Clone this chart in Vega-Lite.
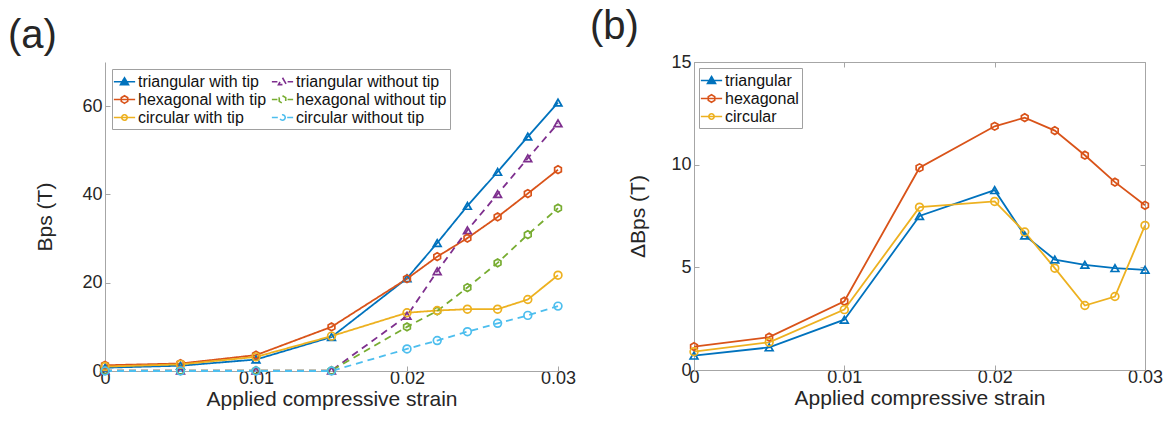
{
  "$schema": "https://vega.github.io/schema/vega-lite/v6.json",
  "background": "white",
  "padding": {"left": 8, "top": 6, "right": 5, "bottom": 5},
  "config": {
    "font": "Liberation Sans",
    "view": {"stroke": null},
    "axis": {
      "labelFont": "Liberation Sans", "titleFont": "Liberation Sans",
      "labelFontSize": 18, "titleFontSize": 21, "titleFontWeight": "normal",
      "labelColor": "#262626", "titleColor": "#262626",
      "domainColor": "#a6a6a6", "tickColor": "#a6a6a6", "domainWidth": 1, "tickWidth": 1,
      "tickSize": -5, "grid": false, "labelPadding": 8, "labelFlush": false, "labelOverlap": false
    },
    "point": {"filled": false, "strokeWidth": 1.7, "size": 60, "opacity": 1},
    "title": {"font": "Liberation Sans", "fontSize": 40, "fontWeight": "normal", "color": "#262626", "anchor": "start", "frame": "group", "baseline": "bottom"},
    "legend": {"labelFont": "Liberation Sans", "labelFontSize": 16, "labelColor": "#111", "title": null}
  },
  "resolve": {"scale": {"color": "independent", "strokeDash": "independent"}, "legend": {"color": "independent"}},
  "datasets": {
    "a": [
      {"s": "triangular with tip", "x": 0, "y": 0.75}, {"s": "triangular with tip", "x": 0.005, "y": 1.2}, {"s": "triangular with tip", "x": 0.01, "y": 2.6}, {"s": "triangular with tip", "x": 0.015, "y": 7.7}, {"s": "triangular with tip", "x": 0.02, "y": 21.0}, {"s": "triangular with tip", "x": 0.022, "y": 29.0}, {"s": "triangular with tip", "x": 0.024, "y": 37.4}, {"s": "triangular with tip", "x": 0.026, "y": 45.1}, {"s": "triangular with tip", "x": 0.028, "y": 53.1}, {"s": "triangular with tip", "x": 0.03, "y": 60.8},
      {"s": "hexagonal with tip", "x": 0, "y": 1.3}, {"s": "hexagonal with tip", "x": 0.005, "y": 1.7}, {"s": "hexagonal with tip", "x": 0.01, "y": 3.6}, {"s": "hexagonal with tip", "x": 0.015, "y": 10.0}, {"s": "hexagonal with tip", "x": 0.02, "y": 20.9}, {"s": "hexagonal with tip", "x": 0.022, "y": 25.9}, {"s": "hexagonal with tip", "x": 0.024, "y": 30.1}, {"s": "hexagonal with tip", "x": 0.026, "y": 34.9}, {"s": "hexagonal with tip", "x": 0.028, "y": 40.2}, {"s": "hexagonal with tip", "x": 0.03, "y": 45.6},
      {"s": "circular with tip", "x": 0, "y": 1.0}, {"s": "circular with tip", "x": 0.005, "y": 1.5}, {"s": "circular with tip", "x": 0.01, "y": 3.2}, {"s": "circular with tip", "x": 0.015, "y": 7.9}, {"s": "circular with tip", "x": 0.02, "y": 13.2}, {"s": "circular with tip", "x": 0.022, "y": 13.7}, {"s": "circular with tip", "x": 0.024, "y": 14.0}, {"s": "circular with tip", "x": 0.026, "y": 14.0}, {"s": "circular with tip", "x": 0.028, "y": 16.2}, {"s": "circular with tip", "x": 0.03, "y": 21.7},
      {"s": "triangular without tip", "x": 0, "y": 0.1}, {"s": "triangular without tip", "x": 0.005, "y": 0.1}, {"s": "triangular without tip", "x": 0.01, "y": 0.1}, {"s": "triangular without tip", "x": 0.015, "y": 0.1}, {"s": "triangular without tip", "x": 0.02, "y": 12.5}, {"s": "triangular without tip", "x": 0.022, "y": 22.6}, {"s": "triangular without tip", "x": 0.024, "y": 31.9}, {"s": "triangular without tip", "x": 0.026, "y": 40.1}, {"s": "triangular without tip", "x": 0.028, "y": 48.2}, {"s": "triangular without tip", "x": 0.03, "y": 56.1},
      {"s": "hexagonal without tip", "x": 0, "y": 0.1}, {"s": "hexagonal without tip", "x": 0.005, "y": 0.1}, {"s": "hexagonal without tip", "x": 0.01, "y": 0.1}, {"s": "hexagonal without tip", "x": 0.015, "y": 0.1}, {"s": "hexagonal without tip", "x": 0.02, "y": 10.0}, {"s": "hexagonal without tip", "x": 0.022, "y": 13.6}, {"s": "hexagonal without tip", "x": 0.024, "y": 18.9}, {"s": "hexagonal without tip", "x": 0.026, "y": 24.5}, {"s": "hexagonal without tip", "x": 0.028, "y": 30.9}, {"s": "hexagonal without tip", "x": 0.03, "y": 36.9},
      {"s": "circular without tip", "x": 0, "y": 0}, {"s": "circular without tip", "x": 0.005, "y": 0}, {"s": "circular without tip", "x": 0.01, "y": 0}, {"s": "circular without tip", "x": 0.015, "y": 0}, {"s": "circular without tip", "x": 0.02, "y": 5.0}, {"s": "circular without tip", "x": 0.022, "y": 6.9}, {"s": "circular without tip", "x": 0.024, "y": 8.9}, {"s": "circular without tip", "x": 0.026, "y": 10.8}, {"s": "circular without tip", "x": 0.028, "y": 12.6}, {"s": "circular without tip", "x": 0.03, "y": 14.7}
    ],
    "b": [
      {"s": "triangular", "x": 0, "y": 0.7}, {"s": "triangular", "x": 0.005, "y": 1.1}, {"s": "triangular", "x": 0.01, "y": 2.45}, {"s": "triangular", "x": 0.015, "y": 7.5}, {"s": "triangular", "x": 0.02, "y": 8.76}, {"s": "triangular", "x": 0.022, "y": 6.55}, {"s": "triangular", "x": 0.024, "y": 5.38}, {"s": "triangular", "x": 0.026, "y": 5.12}, {"s": "triangular", "x": 0.028, "y": 4.96}, {"s": "triangular", "x": 0.03, "y": 4.88},
      {"s": "hexagonal", "x": 0, "y": 1.14}, {"s": "hexagonal", "x": 0.005, "y": 1.6}, {"s": "hexagonal", "x": 0.01, "y": 3.35}, {"s": "hexagonal", "x": 0.015, "y": 9.85}, {"s": "hexagonal", "x": 0.02, "y": 11.87}, {"s": "hexagonal", "x": 0.022, "y": 12.29}, {"s": "hexagonal", "x": 0.024, "y": 11.66}, {"s": "hexagonal", "x": 0.026, "y": 10.46}, {"s": "hexagonal", "x": 0.028, "y": 9.15}, {"s": "hexagonal", "x": 0.03, "y": 8.02},
      {"s": "circular", "x": 0, "y": 0.89}, {"s": "circular", "x": 0.005, "y": 1.35}, {"s": "circular", "x": 0.01, "y": 2.94}, {"s": "circular", "x": 0.015, "y": 7.93}, {"s": "circular", "x": 0.02, "y": 8.21}, {"s": "circular", "x": 0.022, "y": 6.72}, {"s": "circular", "x": 0.024, "y": 4.96}, {"s": "circular", "x": 0.026, "y": 3.14}, {"s": "circular", "x": 0.028, "y": 3.58}, {"s": "circular", "x": 0.03, "y": 7.04}
    ]
  },
  "spacing": 13,
  "hconcat": [
    {
      "title": {"text": "(a)", "dx": -97, "offset": 6},
      "width": 453,
      "height": 309,
      "data": {"name": "a"},
      "encoding": {
        "x": {"field": "x", "type": "quantitative", "scale": {"domain": [0, 0.03], "nice": false},
              "axis": {"values": [0, 0.01, 0.02, 0.03], "format": "~g", "title": "Applied compressive strain", "labelPadding": 3, "titlePadding": 1}},
        "y": {"field": "y", "type": "quantitative", "scale": {"domain": [0, 70], "nice": false},
              "axis": {"values": [0, 20, 40, 60], "title": "Bps (T)", "titlePadding": 26}},
        "color": {"field": "s", "type": "nominal",
                  "scale": {"domain": ["triangular with tip", "triangular without tip", "hexagonal with tip", "hexagonal without tip", "circular with tip", "circular without tip"],
                            "range": ["#0072BD", "#7E2F8E", "#D95319", "#77AC30", "#EDB120", "#4DBEEE"]},
                  "legend": {"orient": "none", "legendX": 7, "legendY": 7, "columns": 2, "direction": "horizontal",
                             "fillColor": "white", "strokeColor": "#a0a0a0", "padding": 3, "rowPadding": 0, "columnPadding": 1,
                             "symbolSize": 289, "symbolStrokeWidth": 1.6, "labelOffset": 4,
                             "encode": {"symbols": {"update": {
                               "shape": {"signal": "datum.value === 'triangular with tip' ? 'M-1.25,0H1.25M0,-0.47L0.47,0.34H-0.47Z' : datum.value === 'triangular without tip' ? 'M-1.25,0H-0.6M0.6,0H1.25M0,-0.47L0.47,0.34H-0.47Z' : datum.value === 'hexagonal with tip' ? 'M-1.25,0H1.25M0,-0.44L0.38,-0.22L0.38,0.22L0,0.44L-0.38,0.22L-0.38,-0.22Z' : datum.value === 'hexagonal without tip' ? 'M-1.25,0H-0.6M0.6,0H1.25M0,-0.44L0.38,-0.22L0.38,0.22L0,0.44L-0.38,0.22L-0.38,-0.22Z' : datum.value === 'circular with tip' ? 'M-1.25,0H1.25M0.32,0A0.32,0.32,0,1,1,-0.32,0A0.32,0.32,0,1,1,0.32,0Z' : 'M-1.25,0H-0.55M0.55,0H1.25M0.32,0A0.32,0.32,0,1,1,-0.32,0A0.32,0.32,0,1,1,0.32,0Z'"},
                               "fill": {"signal": "datum.value === 'triangular with tip' ? '#0072BD' : 'transparent'"},
                               "strokeDash": {"value": [1, 0]}
                             }}}}}
      },
      "layer": [
        {
          "mark": {"type": "line", "strokeWidth": 1.8},
          "encoding": {
            "strokeDash": {"field": "s", "type": "nominal",
                           "scale": {"domain": ["triangular with tip", "triangular without tip", "hexagonal with tip", "hexagonal without tip", "circular with tip", "circular without tip"],
                                     "range": [[1, 0], [7, 5], [1, 0], [7, 5], [1, 0], [7, 5]]},
                           "legend": null}
          }
        },
        {
          "transform": [{"filter": {"field": "s", "oneOf": ["triangular with tip", "triangular without tip"]}}],
          "mark": {"type": "point", "shape": "triangle-up"}
        },
        {
          "transform": [{"filter": {"field": "s", "oneOf": ["hexagonal with tip", "hexagonal without tip"]}}],
          "mark": {"type": "point", "shape": "M0,-1L0.866,-0.5L0.866,0.5L0,1L-0.866,0.5L-0.866,-0.5Z"}
        },
        {
          "transform": [{"filter": {"field": "s", "oneOf": ["circular with tip", "circular without tip"]}}],
          "mark": {"type": "point", "shape": "circle"}
        }
      ]
    },
    {
      "title": {"text": "(b)", "dx": -104, "offset": 6},
      "width": 451,
      "height": 308,
      "data": {"name": "b"},
      "view": {"stroke": "#a6a6a6"},
      "encoding": {
        "color": {"field": "s", "type": "nominal",
                  "scale": {"domain": ["triangular", "hexagonal", "circular"], "range": ["#0072BD", "#D95319", "#EDB120"]},
                  "legend": {"orient": "none", "legendX": 5, "legendY": 6, "columns": 1,
                             "fillColor": "white", "strokeColor": "#a0a0a0", "padding": 3, "rowPadding": 0,
                             "symbolSize": 289, "symbolStrokeWidth": 1.6, "labelOffset": 4,
                             "encode": {"symbols": {"update": {
                               "shape": {"signal": "datum.value === 'triangular' ? 'M-1.25,0H1.25M0,-0.47L0.47,0.34H-0.47Z' : datum.value === 'hexagonal' ? 'M-1.25,0H1.25M0,-0.44L0.38,-0.22L0.38,0.22L0,0.44L-0.38,0.22L-0.38,-0.22Z' : 'M-1.25,0H1.25M0.32,0A0.32,0.32,0,1,1,-0.32,0A0.32,0.32,0,1,1,0.32,0Z'"},
                               "fill": {"signal": "datum.value === 'triangular' ? '#0072BD' : 'transparent'"}
                             }}}}}
      },
      "layer": [
        {
          "mark": {"type": "line", "strokeWidth": 1.8},
          "encoding": {
            "x": {"field": "x", "type": "quantitative", "scale": {"domain": [0, 0.03], "nice": false},
                  "axis": {"values": [0, 0.01, 0.02, 0.03], "format": "~g", "title": "Applied compressive strain", "labelPadding": 3, "titlePadding": 1}},
            "y": {"field": "y", "type": "quantitative", "scale": {"domain": [0, 15], "nice": false},
                  "axis": {"values": [0, 5, 10, 15], "title": "ΔBps (T)", "titlePadding": 22}}
          }
        },
        {
          "transform": [{"filter": {"field": "s", "equal": "triangular"}}],
          "mark": {"type": "point", "shape": "triangle-up"},
          "encoding": {
            "x": {"field": "x", "type": "quantitative", "axis": {"orient": "top", "values": [0, 0.01, 0.02, 0.03], "labels": false, "title": null, "domain": false}},
            "y": {"field": "y", "type": "quantitative", "axis": {"orient": "right", "values": [0, 5, 10, 15], "labels": false, "title": null, "domain": false}}
          }
        },
        {
          "transform": [{"filter": {"field": "s", "equal": "hexagonal"}}],
          "mark": {"type": "point", "shape": "M0,-1L0.866,-0.5L0.866,0.5L0,1L-0.866,0.5L-0.866,-0.5Z"},
          "encoding": {
            "x": {"field": "x", "type": "quantitative", "axis": null},
            "y": {"field": "y", "type": "quantitative", "axis": null}
          }
        },
        {
          "transform": [{"filter": {"field": "s", "equal": "circular"}}],
          "mark": {"type": "point", "shape": "circle"},
          "encoding": {
            "x": {"field": "x", "type": "quantitative", "axis": null},
            "y": {"field": "y", "type": "quantitative", "axis": null}
          }
        }
      ],
      "resolve": {"axis": {"x": "independent", "y": "independent"}}
    }
  ]
}
